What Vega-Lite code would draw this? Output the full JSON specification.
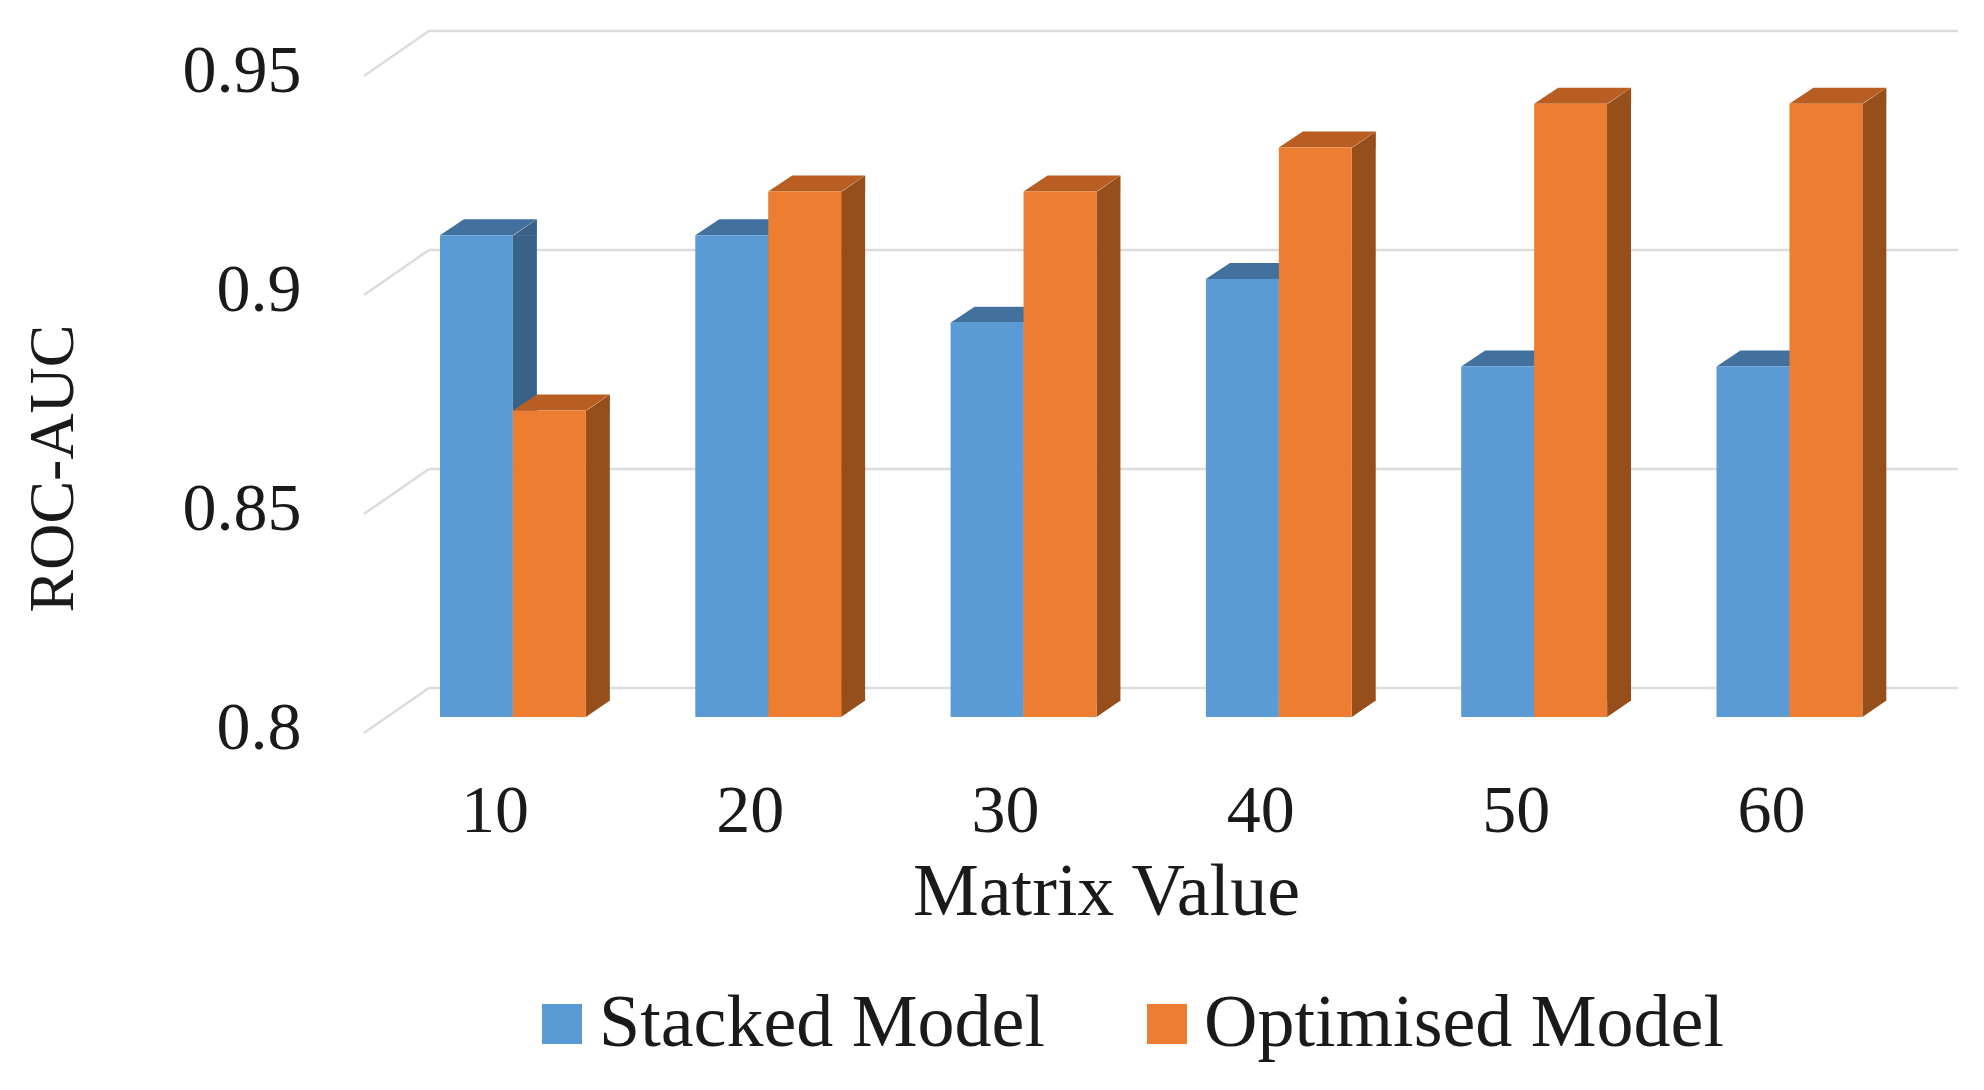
{
"$schema":"https://vega.github.io/schema/vega-lite/v6.json",
"width":1529,"height":657,
"autosize":{"type":"none"},
"padding":{"left":429,"top":60,"right":26,"bottom":373},
"background":"white",
"config":{"view":{"stroke":null},"font":"Liberation Serif",
 "axisY":{"grid":false,"domain":false,"ticks":false,"labelFontSize":68,"labelColor":"#1a1a1a","labelPadding":128,"labelOffset":11,"labelFlush":false,"titleFontWeight":"normal","titleFontSize":64,"titleColor":"#1a1a1a","titleX":-376,"titleY":408,"titleBaseline":"middle","titleAnchor":"middle"},
 "axisX":{"labelAngle":0,"grid":false,"domain":false,"ticks":false,"labelFontSize":68,"labelColor":"#1a1a1a","labelPadding":60,"labelOffset":-18,"titleFontWeight":"normal","titleFontSize":74,"titleColor":"#1a1a1a","titleX":677,"titleY":175,"titleBaseline":"middle","titleAnchor":"middle"}},
"datasets":{
"bars":[
{"matrix":"10","model":"Stacked Model","auc":0.91},{"matrix":"10","model":"Optimised Model","auc":0.87},
{"matrix":"20","model":"Stacked Model","auc":0.91},{"matrix":"20","model":"Optimised Model","auc":0.92},
{"matrix":"30","model":"Stacked Model","auc":0.89},{"matrix":"30","model":"Optimised Model","auc":0.92},
{"matrix":"40","model":"Stacked Model","auc":0.90},{"matrix":"40","model":"Optimised Model","auc":0.93},
{"matrix":"50","model":"Stacked Model","auc":0.88},{"matrix":"50","model":"Optimised Model","auc":0.94},
{"matrix":"60","model":"Stacked Model","auc":0.88},{"matrix":"60","model":"Optimised Model","auc":0.94}],
"ticks":[{"tick":0.8},{"tick":0.85},{"tick":0.9},{"tick":0.95}]
},
"layer":[
{"data":{"name":"ticks"},
 "mark":{"type":"rule","stroke":"#dcdcdc","strokeWidth":2.5,"yOffset":-29,"clip":false},
 "encoding":{"y":{"field":"tick","type":"quantitative","title":"ROC-AUC","scale":{"domain":[0.8,0.95],"nice":false,"zero":false},"axis":{"values":[0.8,0.85,0.9,0.95],"format":".2~f"}}}},
{"data":{"name":"ticks"},
 "mark":{"type":"point","filled":false,"shape":"M-149 16L-84 -29","size":4,"stroke":"#dcdcdc","strokeWidth":2.5,"opacity":1},
 "encoding":{
  "x":{"datum":"10","type":"ordinal","title":"Matrix Value","scale":{"paddingInner":0.4286,"paddingOuter":0.2088,"align":0.103}},
  "y":{"field":"tick","type":"quantitative","title":"ROC-AUC","axis":{"values":[0.8,0.85,0.9,0.95],"format":".2~f"}}}},
{"data":{"name":"bars"},
 "transform":[{"filter":"datum.model === 'Stacked Model'"}],
 "mark":{"type":"rule","strokeWidth":24,"y2Offset":-16,"stroke":"#3a6288"},
 "encoding":{
  "x":{"field":"matrix","type":"ordinal","title":"Matrix Value","bandPosition":0.582},
  "y":{"field":"auc","type":"quantitative","title":"ROC-AUC","axis":{"values":[0.8,0.85,0.9,0.95],"format":".2~f"}},
  "y2":{"datum":0.8}}},
{"data":{"name":"bars"},
 "transform":[{"filter":"datum.model === 'Optimised Model'"}],
 "mark":{"type":"rule","strokeWidth":24,"y2Offset":-16,"stroke":"#964f1b"},
 "encoding":{
  "x":{"field":"matrix","type":"ordinal","title":"Matrix Value","bandPosition":1.082},
  "y":{"field":"auc","type":"quantitative","title":"ROC-AUC","axis":{"values":[0.8,0.85,0.9,0.95],"format":".2~f"}},
  "y2":{"datum":0.8}}},
{"data":{"name":"bars"},
 "mark":{"type":"point","filled":true,"opacity":1,"size":4,"shape":"M36.5 0.5L60.5 -16L60.5 0.5Z"},
 "encoding":{
  "x":{"field":"matrix","type":"ordinal","title":"Matrix Value"},
  "xOffset":{"field":"model","type":"nominal","sort":["Stacked Model","Optimised Model"]},
  "y":{"field":"auc","type":"quantitative","title":"ROC-AUC","axis":{"values":[0.8,0.85,0.9,0.95],"format":".2~f"}},
  "color":{"field":"model","type":"nominal","legend":null,"scale":{"domain":["Stacked Model","Optimised Model"],"range":["#3a6288","#964f1b"]}}}},
{"data":{"name":"bars"},
 "mark":{"type":"point","filled":true,"opacity":1,"size":4,"shape":"M36.5 0L60.5 -16.5L36.5 -16.5Z"},
 "encoding":{
  "x":{"field":"matrix","type":"ordinal","title":"Matrix Value"},
  "xOffset":{"field":"model","type":"nominal","sort":["Stacked Model","Optimised Model"]},
  "y":{"datum":0.8,"type":"quantitative","title":"ROC-AUC","axis":{"values":[0.8,0.85,0.9,0.95],"format":".2~f"}},
  "color":{"field":"model","type":"nominal","legend":null,"scale":{"domain":["Stacked Model","Optimised Model"],"range":["#3a6288","#964f1b"]}}}},
{"data":{"name":"bars"},
 "mark":{"type":"point","filled":true,"opacity":1,"size":4,"shape":"M-36.5 0L36.5 0L60.5 -16L-12.5 -16Z"},
 "encoding":{
  "x":{"field":"matrix","type":"ordinal","title":"Matrix Value"},
  "xOffset":{"field":"model","type":"nominal","sort":["Stacked Model","Optimised Model"]},
  "y":{"field":"auc","type":"quantitative","title":"ROC-AUC","axis":{"values":[0.8,0.85,0.9,0.95],"format":".2~f"}},
  "color":{"field":"model","type":"nominal","legend":null,"scale":{"domain":["Stacked Model","Optimised Model"],"range":["#41719c","#b85e22"]}}}},
{"data":{"name":"bars"},
 "mark":{"type":"bar"},
 "encoding":{
  "x":{"field":"matrix","type":"ordinal","title":"Matrix Value"},
  "xOffset":{"field":"model","type":"nominal","sort":["Stacked Model","Optimised Model"]},
  "y":{"field":"auc","type":"quantitative","title":"ROC-AUC","axis":{"values":[0.8,0.85,0.9,0.95],"format":".2~f"}},
  "y2":{"datum":0.8},
  "color":{"field":"model","type":"nominal","scale":{"domain":["Stacked Model","Optimised Model"],"range":["#5b9bd5","#ed7d31"]},
   "legend":{"title":null,"orient":"none","legendX":96,"legendY":927,"direction":"horizontal","columns":2,"symbolType":"square","symbolSize":1600,"symbolStrokeWidth":0,"labelFontSize":74,"labelColor":"#1a1a1a","labelOffset":0,"labelLimit":800,"columnPadding":85}}}}
],
"resolve":{"scale":{"color":"independent"}}
}
